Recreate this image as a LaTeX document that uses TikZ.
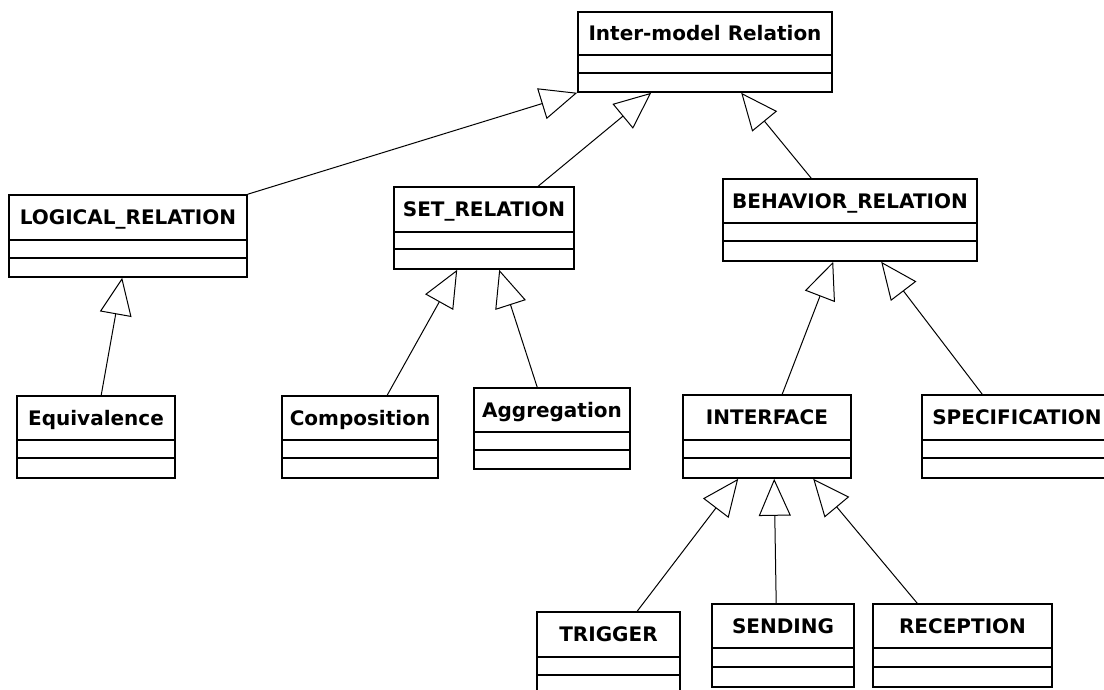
\documentclass[tikz,border=0pt]{standalone}
\usepackage{fontspec}
\setmainfont{DejaVu Sans}
\usetikzlibrary{arrows.meta,fit}
\tikzset{
  clsbox/.style={draw=black, line width=1.6pt, rectangle, inner sep=0pt, fill=white},
  clsline/.style={draw=black, line width=1.6pt},
  clstitle/.style={font=\fontsize{20}{22}\selectfont\bfseries, text=black, inner sep=0pt, text height=14.6pt, text depth=0pt, anchor=center},
  inh/.style={draw=black, line width=1pt, -{Triangle[open, length=37pt, width=32pt, fill=white]}}
}
\newcommand{\umlclass}[8]{%
  \node[clsbox, fit={(#2,#3) (#4,#7)}] (#1) {};
  \draw[clsline] (#2,#5) -- (#4,#5);
  \draw[clsline] (#2,#6) -- (#4,#6);
  \node[clstitle] (#1-t) at ({(#2+#4)/2},{(#3+#5)/2}) {#8};
}
\begin{document}
\begin{tikzpicture}[x=1pt,y=-1pt]
  \useasboundingbox (0,0) rectangle (1104,690);
  \fill[white] (0,0) rectangle (1104,690);
  \clip (0,0) rectangle (1104,690);
  \umlclass{inter}{578}{12}{832}{55}{73}{92}{Inter-model Relation}
  \umlclass{logical}{9}{195}{247}{240}{258}{277}{LOGICAL\_RELATION}
  \umlclass{setrel}{394}{187}{574}{232}{249}{269}{SET\_RELATION}
  \umlclass{behav}{723}{179}{977}{223}{241}{261}{BEHAVIOR\_RELATION}
  \umlclass{equiv}{17}{396}{175}{440}{458}{478}{Equivalence}
  \umlclass{comp}{282}{396}{438}{440}{458}{478}{Composition}
  \umlclass{aggr}{474}{388}{630}{432}{450}{469}{Aggregation}
  \umlclass{iface}{683}{395}{851}{440}{458}{478}{INTERFACE}
  \umlclass{spec}{922}{395}{1112}{440}{458}{478}{SPECIFICATION}
  \umlclass{trig}{537}{612}{680}{657}{675}{700}{TRIGGER}
  \umlclass{send}{712}{604}{854}{648}{667}{687}{SENDING}
  \umlclass{recep}{873}{604}{1052}{648}{667}{687}{RECEPTION}
  % generalisations
  \draw[inh] (logical.north east) -- (inter.south west);
  \draw[inh] ([xshift=145pt]setrel.north west) -- ([xshift=74pt]inter.south west);
  \draw[inh] ([xshift=89pt]behav.north west) -- ([xshift=164pt]inter.south west);
  \draw[inh] ([xshift=85pt]equiv.north west) -- ([xshift=114pt]logical.south west);
  \draw[inh] ([xshift=106pt]comp.north west) -- ([xshift=64pt]setrel.south west);
  \draw[inh] ([xshift=64pt]aggr.north west) -- ([xshift=106pt]setrel.south west);
  \draw[inh] ([xshift=100pt]iface.north west) -- ([xshift=111pt]behav.south west);
  \draw[inh] ([xshift=61pt]spec.north west) -- ([xshift=159pt]behav.south west);
  \draw[inh] ([xshift=101pt]trig.north west) -- ([xshift=56pt]iface.south west);
  \draw[inh] ([xshift=65pt]send.north west) -- ([xshift=92pt]iface.south west);
  \draw[inh] ([xshift=45pt]recep.north west) -- ([xshift=131pt]iface.south west);
\end{tikzpicture}
\end{document}
